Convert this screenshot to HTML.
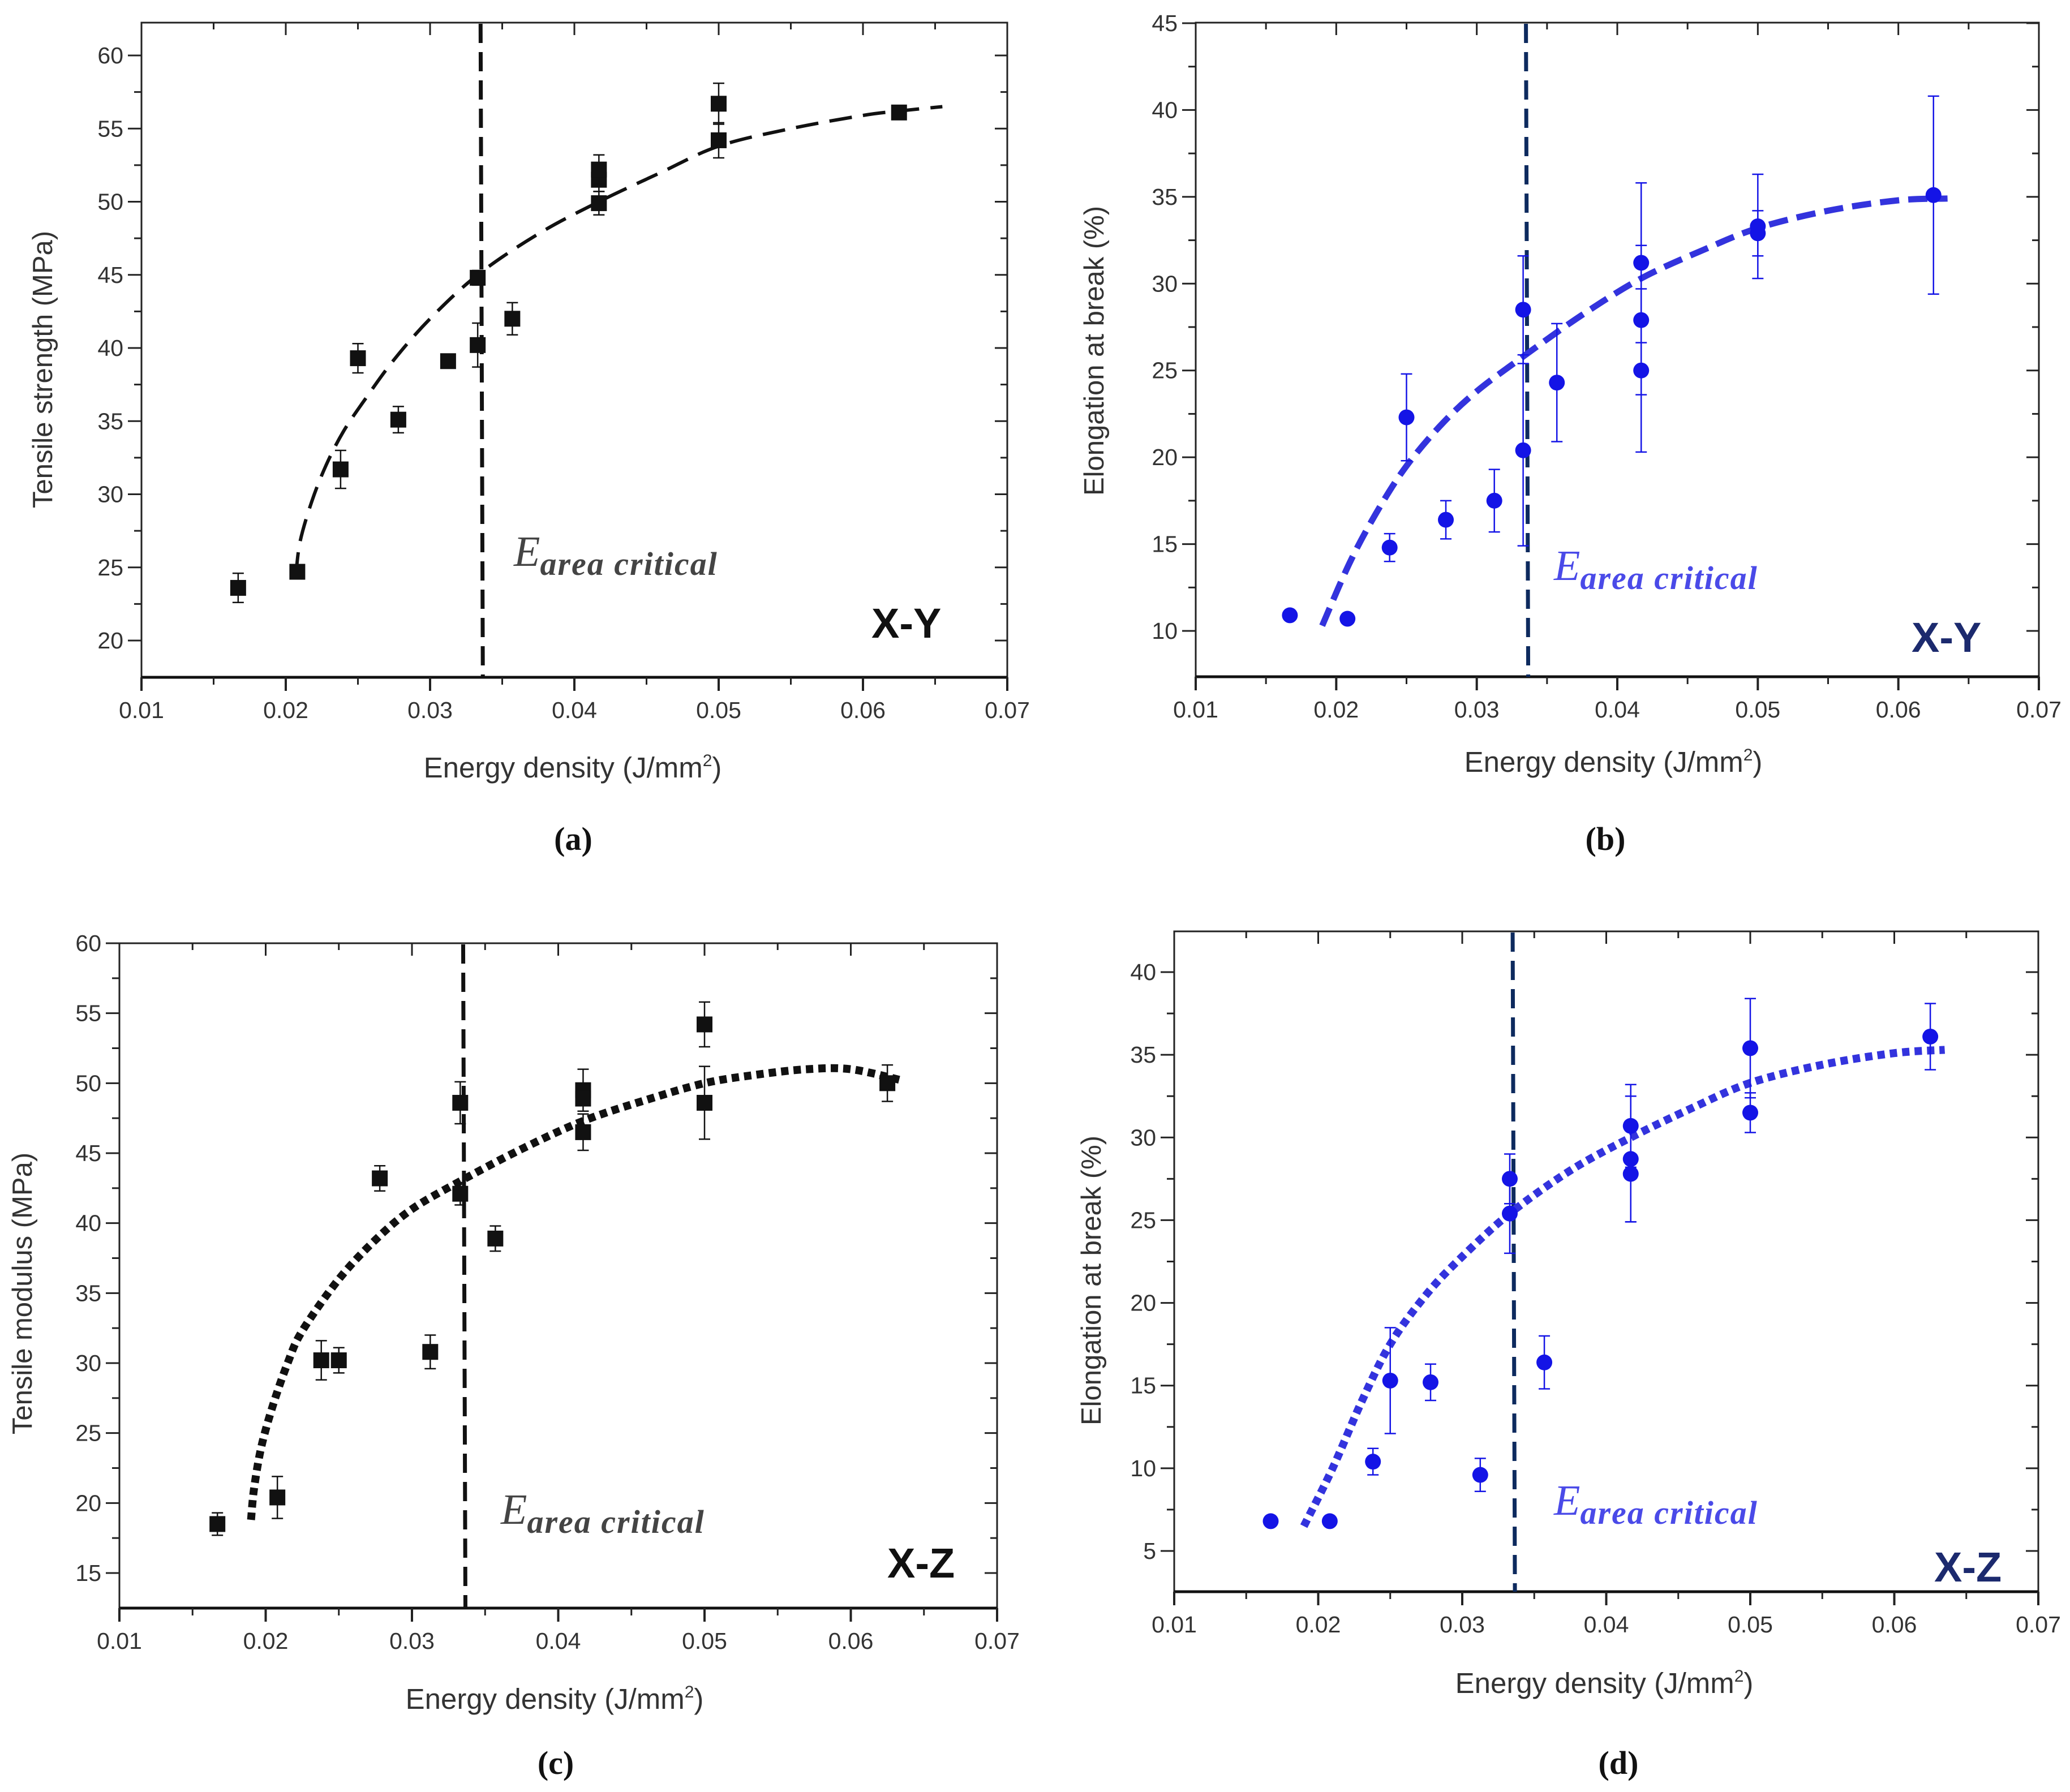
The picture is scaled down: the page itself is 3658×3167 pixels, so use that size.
<!DOCTYPE html>
<html><head><meta charset="utf-8">
<style>
html,body{margin:0;padding:0;background:#fff;}
svg{display:block;}
</style></head>
<body>
<svg id="fig" width="3658" height="3167" viewBox="0 0 3658 3167" xmlns="http://www.w3.org/2000/svg"></svg>
<script>
// ---- Panel (a) data ----
const aX = [0.0167,0.0208,0.0238,0.025,0.0278,0.03125,0.0333,0.0333,0.0357,0.0417,0.0417,0.0417,0.05,0.05,0.0625];
const aY = [23.6,24.7,31.7,39.3,35.1,39.1,40.2,44.8,42.0,49.9,51.5,52.2,54.2,56.7,56.1];
const aErr = [1.0,0.4,1.3,1.0,0.9,0.4,1.5,0.5,1.1,0.8,0.8,1.0,1.2,1.4,0.3];
const aFitX = [0.0207,0.021,0.0218,0.0228,0.024,0.0255,0.0275,0.03,0.0333,0.0375,0.0417,0.046,0.05,0.055,0.06,0.0625,0.0655];
const aFitY = [24.5,26.8,29.5,32.0,34.3,36.5,39.2,42.0,45.0,47.8,50.0,52.0,53.8,55.0,55.9,56.2,56.5];
const aYTicks = [20,25,30,35,40,45,50,55,60];
// ---- Panel (b) data ----
const bX = [0.0167,0.0208,0.0238,0.025,0.0278,0.03125,0.0333,0.0333,0.0357,0.0417,0.0417,0.0417,0.05,0.05,0.0625];
const bY = [10.9,10.7,14.8,22.3,16.4,17.5,28.5,20.4,24.3,31.2,27.9,25.0,33.3,32.9,35.1];
const bErr = [0.2,0.2,0.8,2.5,1.1,1.8,3.1,5.5,3.4,4.6,4.3,4.7,3.0,1.3,5.7];
const bFitX = [0.019,0.021,0.023,0.025,0.0275,0.03,0.0333,0.0375,0.0417,0.046,0.05,0.055,0.06,0.0635];
const bFitY = [10.3,14.0,17.0,19.5,21.9,23.8,25.8,28.2,30.3,31.9,33.2,34.2,34.8,34.9];
const bYTicks = [10,15,20,25,30,35,40,45];
// ---- Panel (c) data ----
const cX = [0.0167,0.0208,0.0238,0.025,0.0278,0.03125,0.0333,0.0333,0.0357,0.0417,0.0417,0.0417,0.05,0.05,0.0625];
const cY = [18.5,20.4,30.2,30.2,43.2,30.8,48.6,42.1,38.9,49.5,48.9,46.5,54.2,48.6,50.0];
const cErr = [0.8,1.5,1.4,0.9,0.9,1.2,1.5,0.8,0.9,1.5,0.5,1.3,1.6,2.6,1.3];
const cFitX = [0.019,0.0192,0.0197,0.0205,0.0215,0.0225,0.025,0.0275,0.03,0.0333,0.0375,0.0417,0.046,0.05,0.0535,0.057,0.06,0.0635];
const cFitY = [18.8,21.0,24.0,27.0,30.0,32.3,36.0,38.8,41.0,43.0,45.3,47.3,48.8,50.0,50.6,51.0,51.0,50.2];
const cYTicks = [15,20,25,30,35,40,45,50,55,60];
// ---- Panel (d) data ----
const dX = [0.0167,0.0208,0.0238,0.025,0.0278,0.03125,0.0333,0.0333,0.0357,0.0417,0.0417,0.0417,0.05,0.05,0.0625];
const dY = [6.8,6.8,10.4,15.3,15.2,9.6,27.5,25.4,16.4,30.7,28.7,27.8,35.4,31.5,36.1];
const dErr = [0.2,0.2,0.8,3.2,1.1,1.0,1.5,2.4,1.6,2.5,3.8,2.9,3.0,1.2,2.0];
const dFitX = [0.019,0.021,0.023,0.025,0.0275,0.03,0.0333,0.0375,0.0417,0.046,0.05,0.055,0.06,0.0635];
const dFitY = [6.5,10.0,14.0,17.5,20.5,22.8,25.4,28.0,30.0,31.8,33.3,34.4,35.1,35.3];
const dYTicks = [5,10,15,20,25,30,35,40];
const xTicks = [0.01,0.02,0.03,0.04,0.05,0.06,0.07];
const xTickLabels = ["0.01","0.02","0.03","0.04","0.05","0.06","0.07"];
const critX = 0.0335;

const NS = "http://www.w3.org/2000/svg";
const fig = document.getElementById('fig');
function mk(tag, attrs, parent){
  const e = document.createElementNS(NS, tag);
  for (const k in attrs) e.setAttribute(k, attrs[k]);
  (parent||fig).appendChild(e);
  return e;
}
function smoothPath(pts){
  let d = 'M' + pts[0][0].toFixed(1) + ' ' + pts[0][1].toFixed(1);
  for (let i = 0; i < pts.length - 1; i++){
    const p0 = pts[Math.max(0, i-1)], p1 = pts[i], p2 = pts[i+1], p3 = pts[Math.min(pts.length-1, i+2)];
    const c1 = [p1[0] + (p2[0]-p0[0])/6, p1[1] + (p2[1]-p0[1])/6];
    const c2 = [p2[0] - (p3[0]-p1[0])/6, p2[1] - (p3[1]-p1[1])/6];
    d += 'C' + c1[0].toFixed(1) + ' ' + c1[1].toFixed(1) + ' ' + c2[0].toFixed(1) + ' ' + c2[1].toFixed(1) + ' ' + p2[0].toFixed(1) + ' ' + p2[1].toFixed(1);
  }
  return d;
}

function panel(cfg){
  const g = mk('g', {});
  
  
  const sx = v => cfg.L + (v - 0.01) / 0.06 * (cfg.R - cfg.L);
  const sy = v => cfg.y0px + (v - cfg.y0) / (cfg.y1 - cfg.y0) * (cfg.y1px - cfg.y0px);
  const frame = mk('rect', {x:cfg.L, y:cfg.T, width:cfg.R-cfg.L, height:cfg.B-cfg.T, fill:'none', stroke:'#222', 'stroke-width':3}, g);
  
  
  mk('line', {x1:cfg.L, y1:cfg.B, x2:cfg.R, y2:cfg.B, stroke:'#111', 'stroke-width':5}, g);
  for (let i = 0; i < xTicks.length; i++){
    const x = sx(xTicks[i]);
    mk('line', {x1:x, y1:cfg.B, x2:x, y2:cfg.B+24, stroke:'#222', 'stroke-width':4}, g);
    mk('line', {x1:x, y1:cfg.T, x2:x, y2:cfg.T+22, stroke:'#222', 'stroke-width':3}, g);
    const t = mk('text', {x:x, y:cfg.B+72, 'text-anchor':'middle', 'font-size':41, fill:'#333', 'font-family':'Liberation Sans, sans-serif'}, g);
    t.textContent = xTickLabels[i];
    
    
    if (i < xTicks.length - 1){
      const xm = sx(xTicks[i] + 0.005);
      mk('line', {x1:xm, y1:cfg.B, x2:xm, y2:cfg.B+13, stroke:'#222', 'stroke-width':3}, g);
      mk('line', {x1:xm, y1:cfg.T, x2:xm, y2:cfg.T+12, stroke:'#222', 'stroke-width':3}, g);
    }
  }
  for (let i = 0; i < cfg.yTicks.length; i++){
    const v = cfg.yTicks[i];
    const y = sy(v);
    mk('line', {x1:cfg.L-24, y1:y, x2:cfg.L, y2:y, stroke:'#222', 'stroke-width':3}, g);
    mk('line', {x1:cfg.R-22, y1:y, x2:cfg.R, y2:y, stroke:'#222', 'stroke-width':3}, g);
    const t = mk('text', {x:cfg.L-32, y:y+14, 'text-anchor':'end', 'font-size':41, fill:'#333', 'font-family':'Liberation Sans, sans-serif'}, g);
    t.textContent = String(v);
    
    
    const ym = sy(v + cfg.step/2);
    if (ym > cfg.T + 5){
      mk('line', {x1:cfg.L-13, y1:ym, x2:cfg.L, y2:ym, stroke:'#222', 'stroke-width':3}, g);
      mk('line', {x1:cfg.R-12, y1:ym, x2:cfg.R, y2:ym, stroke:'#222', 'stroke-width':3}, g);
    }
    const yb = sy(v - cfg.step/2);
    if (i === 0 && yb < cfg.B - 5){
      mk('line', {x1:cfg.L-13, y1:yb, x2:cfg.L, y2:yb, stroke:'#222', 'stroke-width':3}, g);
    }
  }
  const cl = mk('line', {x1:sx(critX), y1:cfg.T+2, x2:sx(critX)+4, y2:cfg.B, stroke:cfg.critColor, 'stroke-width':7, 'stroke-dasharray':'34 16'}, g);
  
  
  const pts = [];
  for (let i = 0; i < cfg.fitX.length; i++) pts.push([sx(cfg.fitX[i]), sy(cfg.fitY[i])]);
  const fit = mk('path', {d:smoothPath(pts), fill:'none', stroke:cfg.fitColor, 'stroke-width':cfg.fitW, 'stroke-dasharray':cfg.fitDash, 'stroke-linejoin':'round'}, g);
  
  
  for (let i = 0; i < cfg.xs.length; i++){
    const x = sx(cfg.xs[i]), y = sy(cfg.ys[i]);
    const yt = sy(cfg.ys[i] + cfg.err[i]), yb = sy(cfg.ys[i] - cfg.err[i]);
    const eg = mk('g', {}, g);
    
    
    mk('line', {x1:x, y1:yt, x2:x, y2:yb, stroke:cfg.ptColor, 'stroke-width':2.5}, eg);
    mk('line', {x1:x-10, y1:yt, x2:x+10, y2:yt, stroke:cfg.ptColor, 'stroke-width':2.5}, eg);
    mk('line', {x1:x-10, y1:yb, x2:x+10, y2:yb, stroke:cfg.ptColor, 'stroke-width':2.5}, eg);
    let p;
    if (cfg.square) p = mk('rect', {x:x-14, y:y-14, width:28, height:28, fill:cfg.ptColor}, g);
    else p = mk('circle', {cx:x, cy:y, r:14, fill:cfg.ptColor}, g);
    
    
  }
  const xt = mk('text', {x:cfg.xtX, y:cfg.xtY, 'text-anchor':'middle', 'font-size':51, fill:'#333', 'font-family':'Liberation Sans, sans-serif'}, g);
  xt.innerHTML = 'Energy density (J/mm<tspan dy="-20" font-size="30">2</tspan><tspan dy="20">)</tspan>';
  
  
  const yt = mk('text', {x:0, y:0, transform:'translate('+cfg.ytX+','+cfg.ytY+') rotate(-90)', 'text-anchor':'middle', 'font-size':49, fill:'#333', 'font-family':'Liberation Sans, sans-serif'}, g);
  yt.textContent = cfg.yTitle;
  
  
  const ec = mk('text', {x:cfg.eX, y:cfg.eY, 'font-size':76, fill:cfg.eColor, 'font-style':'italic', 'font-family':'Liberation Serif, serif'}, g);
  ec.innerHTML = 'E<tspan dy="16" font-size="58" font-weight="bold" letter-spacing="2">area critical</tspan>';
  
  
  const or = mk('text', {x:cfg.oX, y:cfg.oY, 'font-size':74, 'font-weight':'bold', fill:cfg.oColor, 'font-family':'Liberation Sans, sans-serif'}, g);
  or.textContent = cfg.orient;
  
  
  const pl = mk('text', {x:cfg.pX, y:cfg.pY, 'text-anchor':'middle', 'font-size':58, 'font-weight':'bold', fill:'#111', 'font-family':'Liberation Serif, serif'}, g);
  pl.textContent = cfg.plabel;
  
  
}

panel({name:'panel-a-tensile-strength-xy', L:250, R:1780, T:40, B:1197, y0:20, y1:60, y0px:1132, y1px:98, step:5,
  yTicks:aYTicks, xs:aX, ys:aY, err:aErr, fitX:aFitX, fitY:aFitY, square:true, ptColor:'#111',
  critColor:'#111', fitColor:'#111', fitW:6, fitDash:'40 20', yTitle:'Tensile strength (MPa)',
  xtX:1012, xtY:1374, ytX:92, ytY:653, eX:908, eY:1000, eColor:'#444', oX:1540, oY:1127, oColor:'#111', orient:'X-Y', plabel:'(a)', pX:1013, pY:1502});
panel({name:'panel-b-elongation-xy', L:2113, R:3603, T:40, B:1196, y0:10, y1:45, y0px:1115, y1px:41, step:5,
  yTicks:bYTicks, xs:bX, ys:bY, err:bErr, fitX:bFitX, fitY:bFitY, square:false, ptColor:'#1414e6',
  critColor:'#0d2a5e', fitColor:'#3333dd', fitW:11, fitDash:'34 16', yTitle:'Elongation at break (%)',
  xtX:2851, xtY:1364, ytX:1950, ytY:620, eX:2746, eY:1025, eColor:'#4a4ae8', oX:3378, oY:1152, oColor:'#1c2a6e', orient:'X-Y', plabel:'(b)', pX:2837, pY:1502});
panel({name:'panel-c-tensile-modulus-xz', L:211, R:1762, T:1667, B:2842, y0:15, y1:60, y0px:2780, y1px:1667, step:5,
  yTicks:cYTicks, xs:cX, ys:cY, err:cErr, fitX:cFitX, fitY:cFitY, square:true, ptColor:'#111',
  critColor:'#111', fitColor:'#111', fitW:14, fitDash:'13 9', yTitle:'Tensile modulus (MPa)',
  xtX:980, xtY:3020, ytX:56, ytY:2286, eX:885, eY:2693, eColor:'#444', oX:1568, oY:2788, oColor:'#111', orient:'X-Z', plabel:'(c)', pX:982, pY:3135});
panel({name:'panel-d-elongation-xz', L:2075, R:3602, T:1646, B:2813, y0:5, y1:40, y0px:2741, y1px:1718, step:5,
  yTicks:dYTicks, xs:dX, ys:dY, err:dErr, fitX:dFitX, fitY:dFitY, square:false, ptColor:'#1414e6',
  critColor:'#0d2a5e', fitColor:'#3333dd', fitW:14, fitDash:'13 9', yTitle:'Elongation at break (%)',
  xtX:2835, xtY:2992, ytX:1945, ytY:2263, eX:2746, eY:2677, eColor:'#4a4ae8', oX:3418, oY:2795, oColor:'#1c2a6e', orient:'X-Z', plabel:'(d)', pX:2860, pY:3135});
</script>
</body></html>
